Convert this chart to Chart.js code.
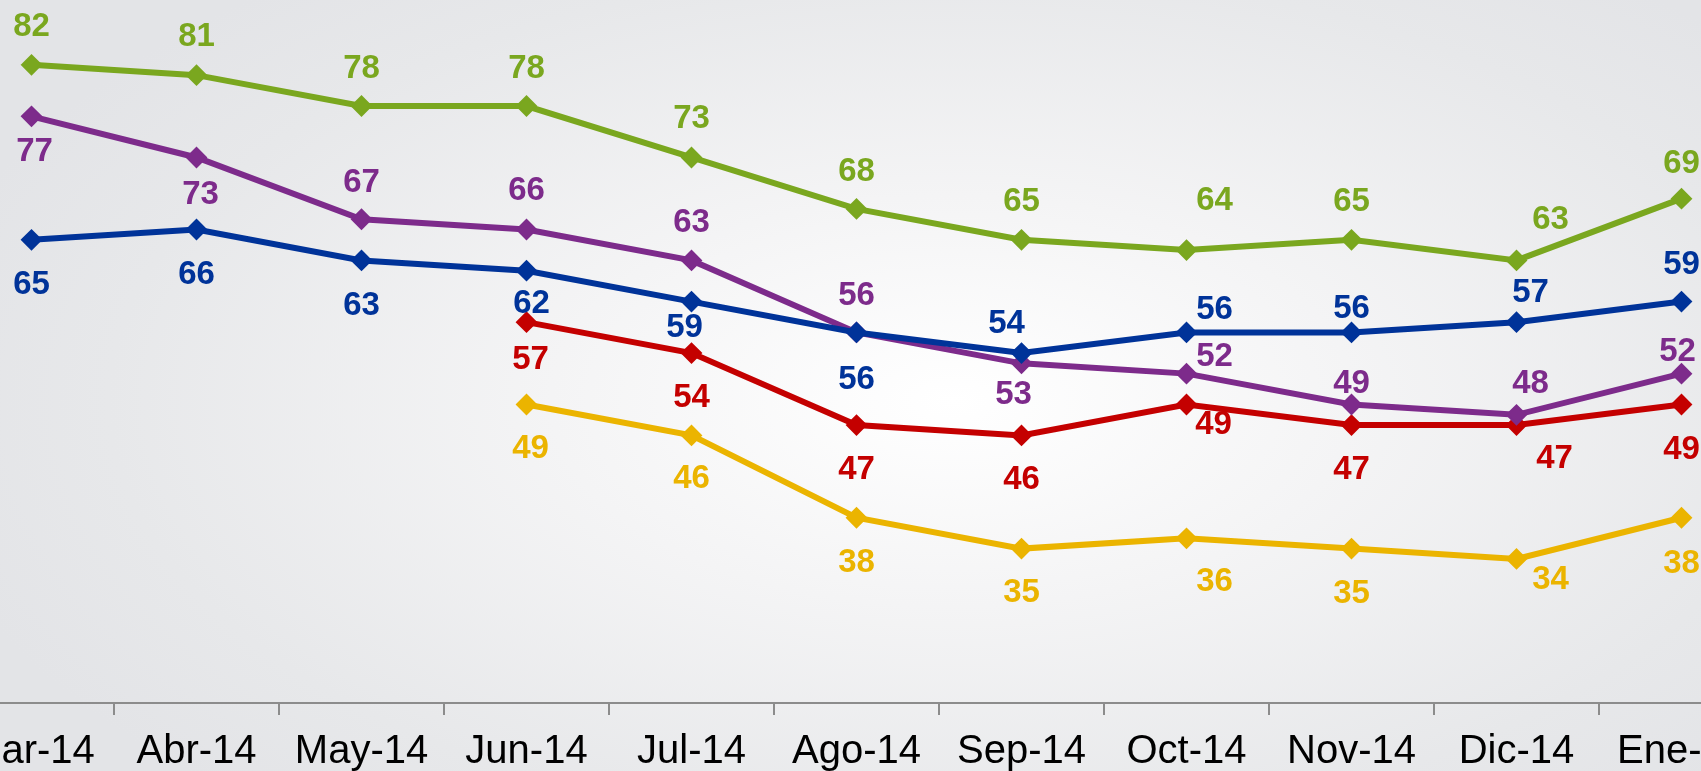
<!DOCTYPE html>
<html>
<head>
<meta charset="utf-8">
<script src="https://cdn.jsdelivr.net/npm/chart.js@4"></script>
<style>
  html, body { margin: 0; padding: 0; }
  body {
    width: 1701px; height: 771px; overflow: hidden; position: relative;
    background: radial-gradient(ellipse 62% 70% at 56% 52%, #ffffff 0%, #f4f4f5 38%, #e7e8ea 80%, #e3e4e7 100%);
  }
  #wrap { position: absolute; left: -100px; top: 0; width: 1900px; height: 771px; }
</style>
</head>
<body>
<div id="wrap"><canvas id="c" width="1900" height="771"></canvas></div>
<script>
// categories and series
const months = ['Mar-14', 'Abr-14', 'May-14', 'Jun-14', 'Jul-14', 'Ago-14', 'Sep-14', 'Oct-14', 'Nov-14', 'Dic-14', 'Ene-15'];
const greenVals  = [82, 81, 78, 78, 73, 68, 65, 64, 65, 63, 69];
const blueVals   = [65, 66, 63, 62, 59, 56, 54, 56, 56, 57, 59];
const purpleVals = [77, 73, 67, 66, 63, 56, 53, 52, 49, 48, 52];
const redVals    = [null, null, null, 57, 54, 47, 46, 49, 47, 47, 49];
const yellowVals = [null, null, null, 49, 46, 38, 35, 36, 35, 34, 38];

// where each value label sits relative to its point (dx, dy in px)
const greenLbl  = [[0,-40],[0,-40],[0,-39],[0,-39],[0,-41],[0,-39],[0,-40],[28,-51],[0,-40],[34,-43],[0,-37]];
const blueLbl   = [[0,43],[0,43],[0,43],[5,31],[-7,24],[0,45],[-15,-31],[28,-25],[0,-26],[14,-31],[0,-39]];
const purpleLbl = [[3,34],[4,35],[0,-38],[0,-41],[0,-40],[0,-39],[-8,30],[28,-19],[0,-23],[14,-33],[-4,-24]];
const redLbl    = [null,null,null,[4,36],[0,43],[0,43],[0,43],[27,18],[0,43],[38,32],[0,43]];
const yellowLbl = [null,null,null,[4,42],[0,42],[0,43],[0,42],[28,42],[0,43],[34,19],[0,44]];

const FONT = '"Liberation Sans", Arial, Helvetica, sans-serif';

function series(data, color, offsets) {
  return {
    data: data,
    borderColor: color,
    backgroundColor: color,
    pointBackgroundColor: color,
    pointBorderColor: color,
    borderWidth: 6,
    pointStyle: 'rectRot',
    pointRadius: 9.5,
    pointBorderWidth: 2,
    pointHoverRadius: 9.5,
    tension: 0,
    clip: false,
    spanGaps: false,
    lblOffsets: offsets
  };
}

// draws the number next to every point
const valueLabels = {
  id: 'valueLabels',
  afterDatasetsDraw(chart) {
    const ctx = chart.ctx;
    ctx.save();
    ctx.font = 'bold 33px ' + FONT;
    ctx.textAlign = 'center';
    ctx.textBaseline = 'middle';
    chart.data.datasets.forEach((ds, i) => {
      const meta = chart.getDatasetMeta(i);
      meta.data.forEach((pt, j) => {
        const v = ds.data[j];
        if (v === null || v === undefined) return;
        const off = ds.lblOffsets[j] || [0, -40];
        ctx.fillStyle = ds.borderColor;
        ctx.fillText(String(v), pt.x + off[0], pt.y + off[1] + 2);
      });
    });
    ctx.restore();
  }
};

try {
  new Chart(document.getElementById('c'), {
    type: 'line',
    data: {
      labels: months,
      datasets: [
        series(greenVals, '#7aa71f', greenLbl),
        series(blueVals, '#003399', blueLbl),
        series(purpleVals, '#7d2b8b', purpleLbl),
        series(redVals, '#c40000', redLbl),
        series(yellowVals, '#ebb400', yellowLbl)
      ]
    },
    options: {
      responsive: false,
      animation: false,
      devicePixelRatio: 1,
      layout: { autoPadding: false, padding: { left: 49, right: 36, top: 0, bottom: 0 } },
      plugins: { legend: { display: false }, tooltip: { enabled: false } },
      events: [],
      scales: {
        x: {
          type: 'category',
          offset: true,
          grid: { offset: true, drawOnChartArea: false, drawTicks: true, tickLength: 12, color: '#8c8c8c', lineWidth: 2 },
          border: { display: true, color: '#8c8c8c', width: 2 },
          ticks: { color: '#000', font: { size: 40, family: FONT }, padding: 13, maxRotation: 0, autoSkip: false },
          afterFit: (s) => { s.height = 68; }
        },
        y: { display: false, min: 20, max: 88.3 }
      }
    },
    plugins: [valueLabels]
  });
} catch (err) {
  console.error('Failed to create chart:', err);
}
</script>
</body>
</html>
